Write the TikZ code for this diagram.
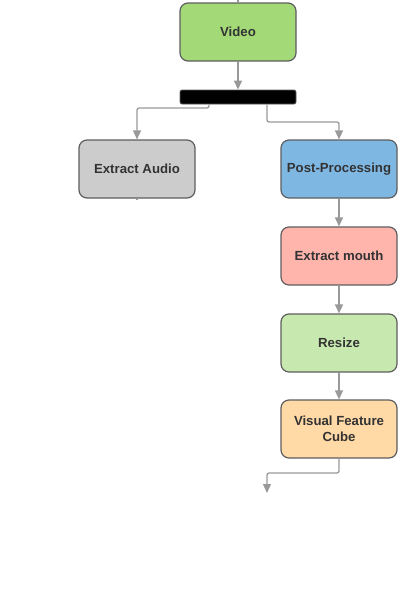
\documentclass[tikz,border=0pt]{standalone}
\usepackage{fontspec}
\setmainfont{Liberation Sans}
\usetikzlibrary{arrows.meta,positioning}
\definecolor{cvideo}{HTML}{A3D977}
\definecolor{caudio}{HTML}{CCCCCC}
\definecolor{cpost}{HTML}{7FB7E3}
\definecolor{cmouth}{HTML}{FFB4AC}
\definecolor{cresize}{HTML}{C7E8AF}
\definecolor{ccube}{HTML}{FFD9A6}
\definecolor{cborder}{HTML}{5E5E5E}
\definecolor{cline}{HTML}{999999}
\definecolor{ctext}{HTML}{333333}
\tikzset{
  stepbox/.style={draw=cborder, line width=1.2pt, rounded corners=8pt,
    minimum width=116pt, minimum height=58pt, align=center,
    text=ctext, font=\bfseries\fontsize{13.2}{16}\selectfont, inner sep=2pt},
  flow/.style={draw=cline, line width=1.3pt, -{Triangle[length=9pt,width=8pt]}},
  stub/.style={draw=cline, line width=1.3pt},
}
\begin{document}
\begin{tikzpicture}[x=1pt,y=-1pt]
\useasboundingbox (0,0) rectangle (400,606);
\node[stepbox, fill=cvideo] (video) at (238,32) {Video};
\node[draw=cborder, fill=black, rounded corners=2pt, minimum width=116pt,
  minimum height=14pt, inner sep=0pt, line width=0.8pt] (bar) at (238,97) {};
\node[stepbox, fill=caudio] (audio) at (137,169) {Extract Audio};
\node[stepbox, fill=cpost] (post) at (339,169) {Post-Processing};
\node[stepbox, fill=cmouth] (mouth) at (339,256) {Extract mouth};
\node[stepbox, fill=cresize] (resize) at (339,343) {Resize};
\node[stepbox, fill=ccube] (cube) at (339,429) {Visual Feature\\Cube};
\coordinate (top) at (238,0);
\coordinate (audioend) at (137,200);
\coordinate (out) at (267,493);
\draw[stub] (top) -- (video.north);
\draw[stub] (audio.south) -- (audioend);
\draw[flow] (video) -- (bar);
\draw[flow, rounded corners=2pt] (bar.south -| 209,0) -- (209,108) -- (137,108) -- (audio.north);
\draw[flow, rounded corners=2pt] (bar.south -| 267,0) -- (267,122) -- (339,122) -- (post.north);
\draw[flow] (post) -- (mouth);
\draw[flow] (mouth) -- (resize);
\draw[flow] (resize) -- (cube);
\draw[flow, rounded corners=2pt] (cube.south) -- (339,473) -- (267,473) -- (out);
\end{tikzpicture}
\end{document}
